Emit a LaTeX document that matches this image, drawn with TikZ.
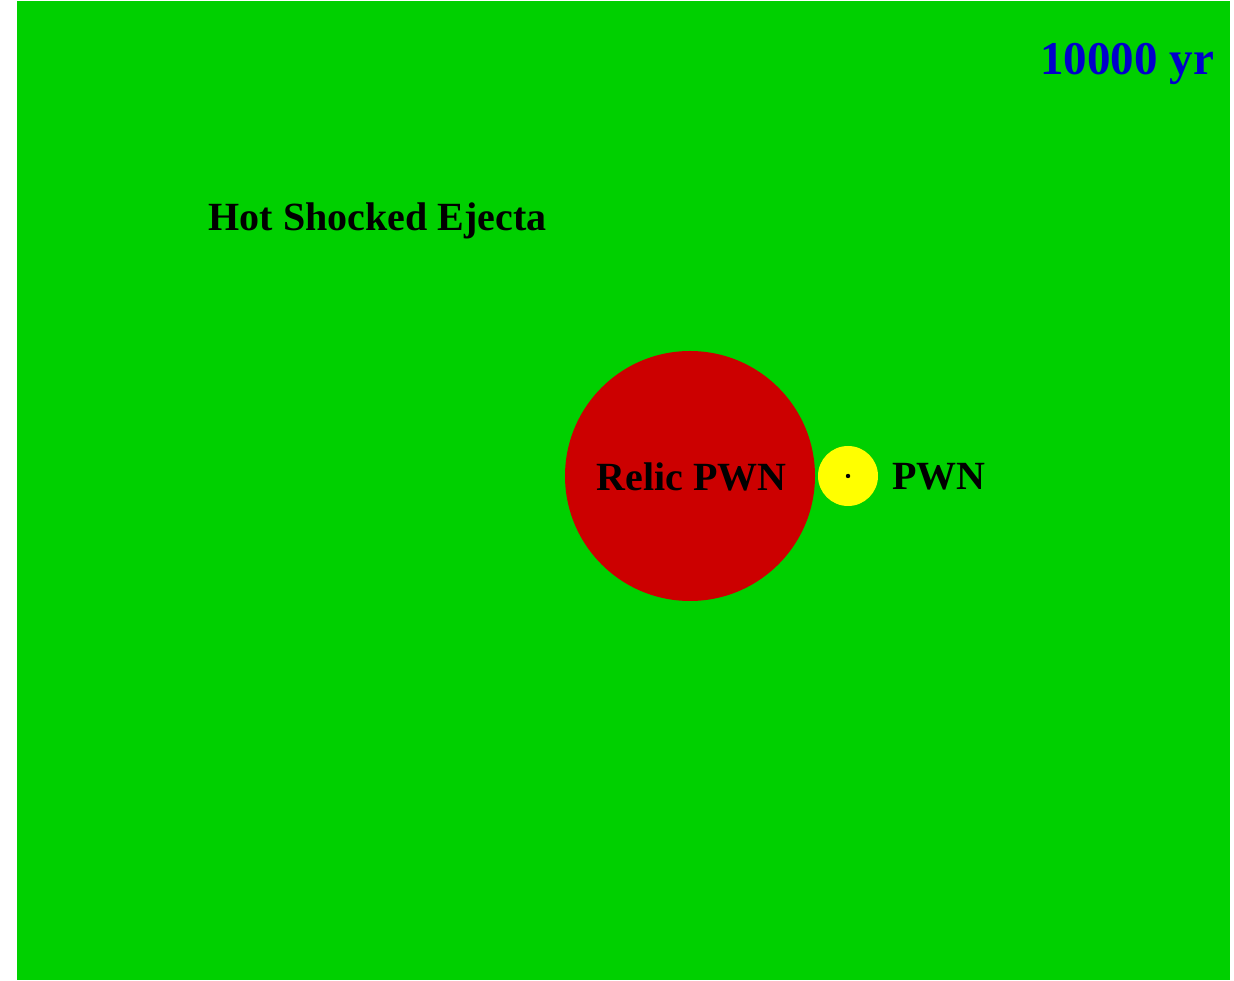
\documentclass[tikz,border=0pt]{standalone}
\usepackage{fontspec}
\setmainfont{Liberation Serif}
\definecolor{ejectagreen}{RGB}{0,208,0}
\definecolor{relicred}{RGB}{204,0,0}
\definecolor{pwnyellow}{RGB}{255,255,0}
\definecolor{ageblue}{RGB}{0,0,204}
\begin{document}
\begin{tikzpicture}[
    x=1pt,y=1pt,
    every node/.style={inner sep=0pt, outer sep=0pt},
    regiontext/.style={font=\bfseries\fontsize{40}{48}\selectfont, text=black},
    agetext/.style={font=\bfseries\fontsize{47}{54}\selectfont, text=ageblue}
]
    \useasboundingbox (0,0) rectangle (1234,980);
    \fill[white] (0,0) rectangle (1234,980);
    \fill[ejectagreen] (17,0) rectangle (1230,979);

    \fill[relicred] (690,504) circle (125);
    \fill[pwnyellow] (848,504) circle (30);
    \fill[black] (848,504) circle (2.2);

    \node[agetext, anchor=base east] (age) at (1214,905) {10000 yr};
    \node[regiontext, anchor=base] (ejecta) at (377.5,749) {Hot Shocked Ejecta};
    \node[regiontext, anchor=base] (relic) at (691.5,489) {Relic PWN};
    \node[regiontext, anchor=base west] (pwn) at (892,490) {PWN};
\end{tikzpicture}
\end{document}
